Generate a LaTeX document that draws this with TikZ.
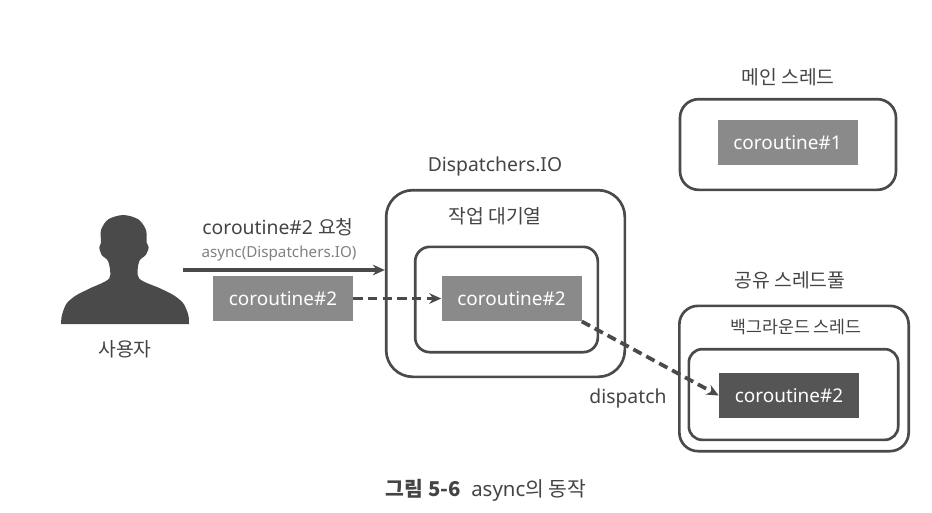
\documentclass[tikz,border=0pt]{standalone}
\usepackage{fontspec}
\setmainfont{Noto Sans}
\newfontfamily\kr{Noto Sans CJK KR}
\usetikzlibrary{arrows.meta}
\definecolor{inkgray}{HTML}{4A4A4A}
\definecolor{jobgray}{HTML}{8A8A8A}
\definecolor{jobdark}{HTML}{555555}
\definecolor{textgray}{HTML}{444444}
\tikzset{
  roundbox/.style={draw=inkgray, line width=2pt, rounded corners=14pt, inner sep=0pt},
  innerbox/.style={draw=inkgray, line width=2pt, rounded corners=10pt, inner sep=0pt},
  job/.style={fill=jobgray, text=white, minimum width=105pt, minimum height=34pt, inner sep=0pt, font=\fontsize{14.2}{16}\selectfont},
  textlabel/.style={text=textgray, inner sep=0pt, font=\fontsize{14.5}{16}\selectfont},
  flowline/.style={draw=inkgray, line width=2.8pt, -{Stealth[length=9pt,width=8pt]}},
  dashline/.style={flowline, dash pattern=on 7pt off 4pt}
}
\begin{document}
\begin{tikzpicture}[x=0.75pt, y=-0.75pt]
  \useasboundingbox (0,0) rectangle (932,512);
  % user
  \fill[inkgray] plot[smooth, tension=0.5] coordinates {(61,324) (62,315) (66.7,303.3) (76.7,295) (90,288.3) (109.3,278.3) (108.3,261.7) (101.7,255) (99.3,247.3) (101,242.7) (101,230) (108.3,219.3) (123.3,215) (138.3,219.3) (146,230) (146.7,242.7) (148.7,247.3) (145.7,255) (139,261.7) (139,278.3) (160,288.3) (173.3,295) (183.3,303.3) (188.3,315) (189,324)} -- cycle;
  \node[textlabel] (userLabel) at (125,349) {\kr 사용자};
  \coordinate (reqStart) at (183,270);
  \node[textlabel] (reqLabel) at (278,227) {coroutine\#2 {\kr 요청}};
  \node[textlabel, text=gray, font=\fontsize{11.4}{12}\selectfont] (asyncLabel) at (279,254) {async(Dispatchers.IO)};
  \node[job] (userJob) at (283,298.5) {coroutine\#2};
  % Dispatchers.IO
  \node[roundbox, rounded corners=20pt, minimum width=179pt, minimum height=140pt] (ioBox) at (505.5,283.5) {};
  \node[innerbox, rounded corners=11pt, minimum width=137pt, minimum height=79pt] (queueBox) at (506.5,299.5) {};
  \node[job] (queueJob) at (511.5,298.5) {coroutine\#2};
  \node[textlabel] (ioLabel) at (495,166) {Dispatchers.IO};
  \node[textlabel] (queueLabel) at (495,216) {\kr 작업 대기열};
  % main thread
  \node[roundbox, minimum width=162pt, minimum height=68pt] (mainBox) at (788,144.5) {};
  \node[job] (mainJob) at (787.5,142.5) {coroutine\#1};
  \node[textlabel] (mainLabel) at (788,77) {\kr 메인 스레드};
  % shared pool
  \node[roundbox, minimum width=172pt, minimum height=109pt] (poolBox) at (794,378.5) {};
  \node[innerbox, minimum width=157pt, minimum height=68pt] (bgBox) at (793.5,394.5) {};
  \node[job, fill=jobdark] (bgJob) at (789,395.5) {coroutine\#2};
  \node[textlabel] (poolLabel) at (790,280) {\kr 공유 스레드풀};
  \node[textlabel, font=\fontsize{13}{14}\selectfont] (bgLabel) at (796,327) {\kr 백그라운드 스레드};
  % arrows
  \coordinate (reqEnd) at (ioBox.west |- reqStart);
  \draw[flowline] (reqStart) -- (reqEnd);
  \draw[dashline] (userJob) -- (queueJob);
  \draw[dashline] (queueJob.south east) -- (bgJob.west);
  \node[textlabel] (dispatchLabel) at (628,398) {dispatch};
  \node[textlabel, font=\fontsize{15.3}{18}\selectfont] (caption) at (486,490) {{\kr\bfseries 그림 5-6}\ \ async{\kr 의 동작}};
\end{tikzpicture}
\end{document}
